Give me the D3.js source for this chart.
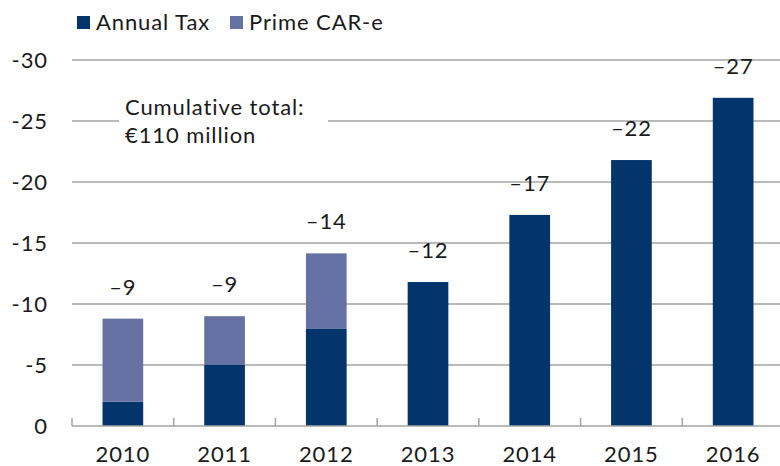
<!DOCTYPE html>
<html><head><meta charset="utf-8">
<script src="https://cdn.jsdelivr.net/npm/d3@7"></script>
<style>
body{margin:0;background:#fff;}
svg text{font-family:Lato,"Open Sans",sans-serif;fill:#1a1a1a;letter-spacing:0.9px;}
</style></head>
<body><svg id="c" width="780" height="466"></svg>
<script>
const years = ["2010","2011","2012","2013","2014","2015","2016"];
const annualTax = [-2.0, -5.0, -8.0, -11.8, -17.3, -21.8, -26.9];
const primeCarE = [-6.8, -4.0, -6.15, 0, 0, 0, 0];
const yTicks = [0, -5, -10, -15, -20, -25, -30];
const seriesNames = ["Annual Tax", "Prime CAR-e"];
const colors = ["#03346c", "#6672a4"];
const noteLines = ["Cumulative total:", "€110 million"];

const svg = d3.select("#c");
const W = 780, fs = 22;
const x = d3.scaleBand().domain(years).range([72, 784]).paddingInner(0.6).paddingOuter(0.3);
const y = d3.scaleLinear().domain([0, -30]).range([426, 60]);

// gridlines
svg.append("g").selectAll("line").data(yTicks.filter(d => d !== 0)).join("line")
  .attr("x1", 72).attr("x2", W).attr("y1", d => y(d)).attr("y2", d => y(d))
  .attr("stroke", "#a3a3a3").attr("stroke-width", 1.5);

// y labels
svg.append("g").selectAll("text").data(yTicks).join("text")
  .attr("x", 48).attr("y", d => y(d)).attr("dy", "0.36em")
  .attr("text-anchor", "end").attr("font-size", fs)
  .text(d => d === 0 ? "0" : "-" + Math.abs(d));

// annotation with white background
const note = svg.append("g");
note.append("rect").attr("x", 119).attr("y", 92).attr("width", 209).attr("height", 58).attr("fill", "#fff");
note.selectAll("text").data(noteLines).join("text")
  .attr("x", 125).attr("y", (d, i) => 115 + i * 28).attr("font-size", fs).text(d => d);

// stacked bars
const stackData = years.map((yr, i) => ({year: yr, a: annualTax[i], p: primeCarE[i]}));
const stack = d3.stack().keys(["a", "p"]).offset(d3.stackOffsetDiverging);
const layers = stack(stackData);
svg.append("g").selectAll("g").data(layers).join("g")
  .attr("fill", (d, i) => colors[i])
  .selectAll("rect").data(d => d.filter(s => s[0] !== s[1])).join("rect")
  .attr("x", d => x(d.data.year)).attr("width", x.bandwidth())
  .attr("y", d => y(Math.min(d[0], d[1]))).attr("height", d => Math.abs(y(d[1]) - y(d[0])));

// value labels
svg.append("g").selectAll("text").data(stackData).join("text")
  .attr("x", d => x(d.year) + x.bandwidth() / 2)
  .attr("y", d => y(d.a + d.p) - 24)
  .attr("text-anchor", "middle").attr("font-size", fs)
  .text(d => "–" + Math.abs(Math.round(d.a + d.p)));

// x axis
svg.append("line").attr("x1", 72).attr("x2", W).attr("y1", y(0)).attr("y2", y(0))
  .attr("stroke", "#a3a3a3").attr("stroke-width", 1.5);
const step = x.step();
svg.append("g").selectAll("line").data(d3.range(0, 7)).join("line")
  .attr("x1", d => 72 + d * step).attr("x2", d => 72 + d * step)
  .attr("y1", y(0)).attr("y2", y(0) - 8)
  .attr("stroke", "#a3a3a3").attr("stroke-width", 1.5);
svg.append("g").selectAll("text").data(years).join("text")
  .attr("x", d => x(d) + x.bandwidth() / 2).attr("y", 462)
  .attr("text-anchor", "middle").attr("font-size", fs).text(d => d);

// legend
const leg = svg.append("g");
const legX = [77, 230];
seriesNames.forEach((n, i) => {
  leg.append("rect").attr("x", legX[i]).attr("y", 16).attr("width", 13).attr("height", 13).attr("fill", colors[i]);
  leg.append("text").attr("x", legX[i] + 19).attr("y", 29.5).attr("font-size", fs).text(n);
});
</script></body></html>
